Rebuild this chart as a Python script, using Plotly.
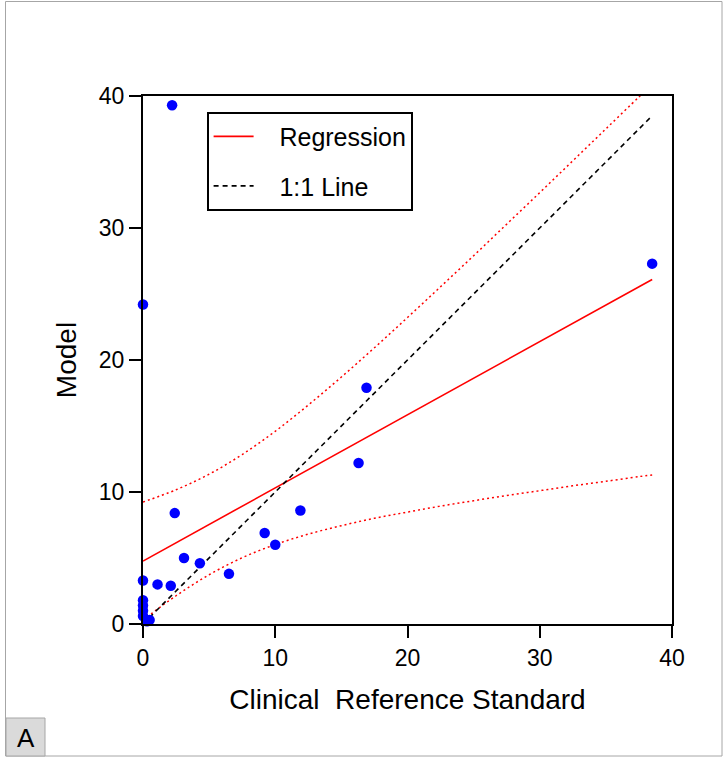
import plotly.graph_objects as go

# ---- data ----
clinical = [2.2, 0.0, 38.5, 16.9, 16.3, 11.9, 9.2, 10.0, 2.4, 3.1, 4.3, 6.5,
            1.1, 2.1, 0.0, 0.0, 0.0, 0.0, 0.0, 0.3, 0.5]
model = [39.3, 24.2, 27.3, 17.9, 12.2, 8.6, 6.9, 6.0, 8.4, 5.0, 4.6, 3.8,
         3.0, 2.9, 3.3, 1.8, 1.4, 1.0, 0.6, 0.2, 0.3]

reg_x = [0.0, 38.5]
reg_y = [4.77, 26.1]

identity_x = [0.0, 38.5]
identity_y = [0.0, 38.5]

band_x = [0, 2.5, 5, 7.5, 10, 12.5, 15, 17.5, 20, 22.5, 25, 27.5, 30, 32.5, 35, 37.5, 38.5]
band_upper = [9.24, 10.17, 11.35, 12.84, 14.60, 16.59, 18.71, 20.93, 23.22, 25.55,
              27.90, 30.29, 32.68, 35.09, 37.51, 39.93, 40.91]
band_lower = [0.30, 2.14, 3.73, 5.02, 6.02, 6.81, 7.45, 8.01, 8.48, 8.93,
              9.34, 9.73, 10.10, 10.47, 10.81, 11.17, 11.29]

x_ticks = [0, 10, 20, 30, 40]
y_ticks = [0, 10, 20, 30, 40]

FONT = "Liberation Sans, Arial, sans-serif"
NB = "\u00a0"

fig = go.Figure()

fig.add_trace(go.Scatter(x=band_x, y=band_upper, mode="lines", line_shape="spline",
                         line=dict(color="red", width=1.5, dash="2px,3px"),
                         showlegend=False, hoverinfo="skip"))
fig.add_trace(go.Scatter(x=band_x, y=band_lower, mode="lines", line_shape="spline",
                         line=dict(color="red", width=1.5, dash="2px,3px"),
                         showlegend=False, hoverinfo="skip"))
fig.add_trace(go.Scatter(x=reg_x, y=reg_y, mode="lines", name=NB * 3 + "Regression",
                         legendgroup="a",
                         line=dict(color="red", width=1.6)))
fig.add_trace(go.Scatter(x=identity_x, y=identity_y, mode="lines", name=NB * 3 + "1:1 Line",
                         legendgroup="b",
                         line=dict(color="black", width=1.6, dash="5px,4px")))
fig.add_trace(go.Scatter(x=clinical, y=model, mode="markers", showlegend=False,
                         marker=dict(color="#0000ff", size=10.5, line=dict(width=0)),
                         cliponaxis=False))

W, H = 724, 757
L, R, T, B = 143, 672, 96, 624
pw, ph = R - L, B - T


def px(xp):
    return (xp - L) / pw


def py(yp):
    return (B - yp) / ph


fig.update_layout(
    width=W, height=H,
    margin=dict(l=L, r=W - R, t=T, b=H - B, pad=0),
    paper_bgcolor="white", plot_bgcolor="white",
    font=dict(family=FONT, size=23, color="black"),
    showlegend=True,
    legend=dict(x=px(207), y=py(112), xanchor="left", yanchor="top",
                bordercolor="black", borderwidth=1.6, bgcolor="white",
                font=dict(size=25), traceorder="grouped", tracegroupgap=14,
                itemwidth=40),
    xaxis=dict(range=[0, 40], tickvals=x_ticks, ticks="outside", ticklen=12,
               tickwidth=2, tickcolor="black", showline=True, linecolor="black",
               linewidth=2, mirror=True, showgrid=False, zeroline=False,
               tickfont=dict(size=23),
               title=dict(text="Clinical" + NB + " Reference Standard",
                          font=dict(size=28), standoff=20)),
    yaxis=dict(range=[0, 40], tickvals=y_ticks, ticks="outside", ticklen=12,
               tickwidth=2, tickcolor="black", showline=True, linecolor="black",
               linewidth=2, mirror=True, showgrid=False, zeroline=False,
               tickfont=dict(size=23),
               title=dict(text="Model", font=dict(size=28), standoff=14)),
    shapes=[
        dict(type="rect", xref="paper", yref="paper",
             x0=px(5.5), x1=px(722), y0=py(756), y1=py(1.5),
             line=dict(color="#a6a6a6", width=1), fillcolor="rgba(0,0,0,0)",
             layer="below"),
        dict(type="rect", xref="paper", yref="paper",
             x0=px(6), x1=px(45), y0=py(756), y1=py(718),
             line=dict(color="#a6a6a6", width=1), fillcolor="#dadada"),
    ],
    annotations=[
        dict(text="A", xref="paper", yref="paper", x=px(25.5), y=py(738),
             xanchor="center", yanchor="middle", showarrow=False,
             font=dict(size=26, color="black")),
    ],
)

fig.write_html("out.html", config={"displayModeBar": False},
               post_script="document.body.style.margin='0';")
